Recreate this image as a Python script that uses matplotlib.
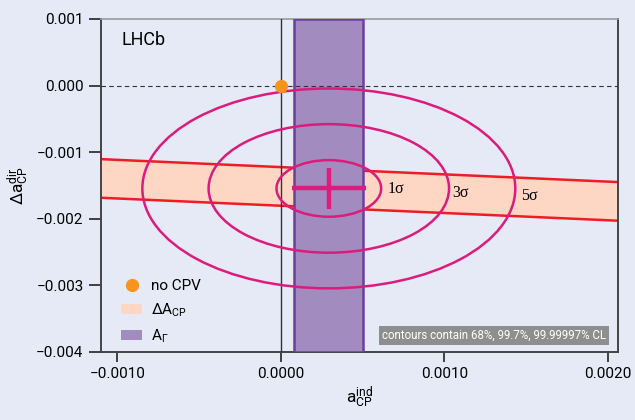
import matplotlib
matplotlib.use("Agg")
import matplotlib.pyplot as plt
from matplotlib.patches import Ellipse, Patch
from matplotlib.lines import Line2D
from matplotlib.ticker import FuncFormatter
import numpy as np

# ---- data ----
xlim = [-0.0011, 0.00206]
ylim = [-0.004, 0.001]
xticks = [-0.0010, 0.0000, 0.0010, 0.0020]
yticks = [0.001, 0.000, -0.001, -0.002, -0.003, -0.004]

# Delta A_CP band: a_dir = dacp - slope * a_ind
dacp_center = -0.001515
dacp_halfwidth = 0.00029
dacp_slope = 0.109

# A_Gamma band in a_ind
agamma_lo = 0.0000812
agamma_hi = 0.000503

# best fit and contours
best_x = 0.000293
best_y = -0.001545
err_x = 0.000226
err_y = 0.000313
contour_labels = ["1σ", "3σ", "5σ"]
contour_halfx = [0.00032, 0.000735, 0.00114]
contour_halfy = [0.000425, 0.000965, 0.00150]
label_x = [0.00065, 0.00105, 0.001466]
label_y = [-0.00155, -0.00161, -0.001657]

nocpv_x = [0.0]
nocpv_y = [0.0]

# ---- style ----
bg = "#e6e9f6"
plt.rcParams['font.family'] = ['Roboto', 'DejaVu Sans']
plt.rcParams['mathtext.default'] = 'regular'
plt.rcParams['axes.unicode_minus'] = True

fig = plt.figure(figsize=(6.35, 4.2), dpi=100, facecolor=bg)
ax = fig.add_axes([0.159, 0.162, 0.814, 0.793], facecolor=bg)

# Delta A_CP band
xs = np.array(xlim)
upper = dacp_center + dacp_halfwidth - dacp_slope * xs
lower = dacp_center - dacp_halfwidth - dacp_slope * xs
ax.fill_between(xs, lower, upper, color="#fdd6c4", zorder=1, lw=0)
ax.plot(xs, upper, color="#ee1c25", lw=1.8, zorder=2)
ax.plot(xs, lower, color="#ee1c25", lw=1.8, zorder=2)

# A_Gamma band
ax.axvspan(agamma_lo, agamma_hi, facecolor="#a28bbf", edgecolor="#6b3fa0", lw=1.8, zorder=3)

# reference lines
ax.axvline(0, color="#333333", lw=1.0, zorder=4)
ax.axhline(0, color="#333333", lw=0.8, ls=(0, (4, 3)), zorder=4)

# contours
for hx, hy in zip(contour_halfx, contour_halfy):
    ax.add_patch(Ellipse((best_x, best_y), 2 * hx, 2 * hy, fill=False,
                         edgecolor="#dc1c7c", lw=1.8, zorder=5))
for lab, lx, ly in zip(contour_labels, label_x, label_y):
    ax.text(lx, ly, lab, family="Liberation Serif", fontsize=11.5, ha="left", va="center", zorder=6)

# cross
ax.plot([best_x - err_x, best_x + err_x], [best_y, best_y], color="#dc1c7c", lw=3.2, zorder=6,
        solid_capstyle='butt')
ax.plot([best_x, best_x], [best_y - err_y, best_y + err_y], color="#dc1c7c", lw=3.2, zorder=6,
        solid_capstyle='butt')

# no CPV point
ax.plot(nocpv_x, nocpv_y, 'o', color="#f7941d", ms=8.5, zorder=7, clip_on=False)

ax.set_xlim(xlim)
ax.set_ylim(ylim)
ax.set_xticks(xticks)
ax.set_yticks(yticks)
ax.xaxis.set_major_formatter(FuncFormatter(lambda v, p: f"{v:.4f}".replace("-", "\u2212")))
ax.yaxis.set_major_formatter(FuncFormatter(lambda v, p: f"{v:.3f}".replace("-", "\u2212")))
ax.tick_params(axis='both', direction='out', labelsize=11, width=1.3, color="#333333")
ax.tick_params(axis='y', length=9)
ax.tick_params(axis='x', length=7)

for s in ['left', 'bottom', 'right']:
    ax.spines[s].set_color("#444444")
    ax.spines[s].set_linewidth(1.4)
ax.spines['top'].set_color("#9a9a9a")
ax.spines['top'].set_linewidth(1.2)

ax.set_xlabel(r"$a_{CP}^{ind}$", fontsize=12.5, labelpad=3)
ax.set_ylabel(r"$\Delta a_{CP}^{dir}$", fontsize=12.5, labelpad=3)

ax.text(0.04, 0.965, "LHCb", transform=ax.transAxes, fontsize=13, ha="left", va="top")

ax.text(0.977, 0.03, "contours contain 68%, 99.7%, 99.99997% CL", transform=ax.transAxes,
        fontsize=8.3, color="white", ha="right", va="bottom",
        bbox=dict(boxstyle="square,pad=0.25", facecolor="#8e8e8e", edgecolor="none"), zorder=8)

handles = [Line2D([], [], marker='o', ls='none', color="#f7941d", ms=8.5),
           Patch(facecolor="#fdd6c4", edgecolor="none"),
           Patch(facecolor="#a28bbf", edgecolor="none")]
labels = ["no CPV", r"$\Delta A_{CP}$", r"$A_{\Gamma}$"]
ax.legend(handles, labels, loc="upper left", bbox_to_anchor=(0.012, 0.26), frameon=False,
          fontsize=11, handlelength=1.4, handleheight=0.6, labelspacing=0.55, handletextpad=0.55)

fig.savefig("out.png", dpi=100, facecolor=bg)
